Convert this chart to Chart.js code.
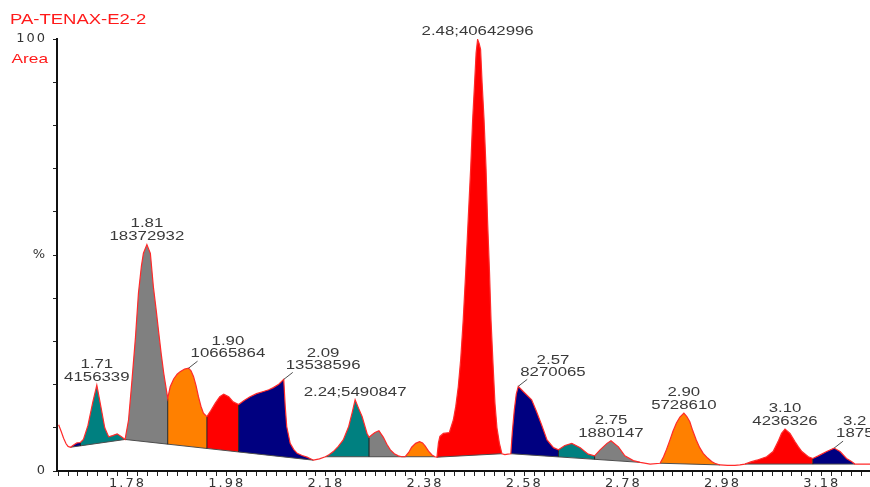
<!DOCTYPE html>
<html>
<head>
<meta charset="utf-8">
<title>PA-TENAX-E2-2</title>
<script src="https://cdn.jsdelivr.net/npm/chart.js@4.4.1/dist/chart.umd.min.js"></script>
<style>
    html, body { margin: 0; padding: 0; background: #fff; }
    #wrap { width: 870px; height: 487px; }
</style>
</head>
<body>
<div id="wrap"><canvas id="cromatograma" width="870" height="487"></canvas></div>
<script>
// --- DATOS ---

const nombreMuestra = "PA-TENAX-E2-2";
const nombreEjeY = "Area";

const etiquetasX = [1.78, 1.98, 2.18, 2.38, 2.58, 2.78, 2.98, 3.18];
const valoresY = [0, 50, 100];
const textosY = ["0", "%", "100"];

// señal (tiempo de retención, % intensidad)
const tiempos = [
    1.641, 1.646, 1.651, 1.656, 1.660, 1.665, 1.672, 1.678, 1.685, 1.691,
    1.700, 1.710, 1.718, 1.726, 1.734, 1.742, 1.750, 1.759, 1.767, 1.775,
    1.782, 1.789, 1.796, 1.802, 1.808, 1.812, 1.819, 1.826, 1.832, 1.838,
    1.843, 1.848, 1.853, 1.861, 1.866, 1.873, 1.880, 1.886, 1.895, 1.903,
    1.908, 1.913, 1.918, 1.923, 1.928, 1.933, 1.940, 1.948, 1.957, 1.966,
    1.974, 1.984, 1.993, 2.004, 2.015, 2.027, 2.040, 2.054, 2.065, 2.074,
    2.085, 2.095, 2.098, 2.101, 2.108, 2.115, 2.122, 2.132, 2.142, 2.155,
    2.167, 2.179, 2.187, 2.195, 2.205, 2.215, 2.226, 2.233, 2.239, 2.246,
    2.253, 2.263, 2.267, 2.273, 2.279, 2.287, 2.296, 2.303, 2.310, 2.318,
    2.326, 2.333, 2.340, 2.347, 2.353, 2.361, 2.369, 2.375, 2.380, 2.387,
    2.394, 2.400, 2.404, 2.407, 2.410, 2.417, 2.429, 2.437, 2.442, 2.447,
    2.452, 2.457, 2.462, 2.467, 2.472, 2.476, 2.480, 2.483, 2.486, 2.489,
    2.492, 2.495, 2.499, 2.503, 2.506, 2.510, 2.513, 2.517, 2.521, 2.525,
    2.530, 2.535, 2.541, 2.547, 2.553, 2.556, 2.560, 2.564, 2.568, 2.578,
    2.595, 2.605, 2.615, 2.626, 2.639, 2.649, 2.662, 2.676, 2.693, 2.709,
    2.722, 2.733, 2.747, 2.755, 2.770, 2.783, 2.800, 2.814, 2.834, 2.854,
    2.861, 2.867, 2.874, 2.880, 2.887, 2.894, 2.902, 2.908, 2.914, 2.920,
    2.927, 2.934, 2.941, 2.950, 2.958, 2.966, 2.975, 2.990, 3.005, 3.015,
    3.025, 3.037, 3.049, 3.059, 3.069, 3.082, 3.092, 3.099, 3.106, 3.116,
    3.126, 3.133, 3.140, 3.153, 3.162, 3.173, 3.190, 3.205, 3.217, 3.230,
    3.240, 3.247, 3.260, 3.278
];
const intensidades = [
    10.7, 9.2, 7.6, 6.3, 5.7, 5.5, 6.1, 6.5, 6.6, 7.3,
    10.5, 16.0, 19.9, 15.0, 10.0, 7.9, 8.2, 8.6, 8.0, 7.3,
    11.8, 21.1, 31.0, 41.2, 47.5, 50.4, 52.4, 50.4, 42.7, 37.0,
    31.9, 27.0, 22.6, 16.8, 19.5, 21.3, 22.4, 23.0, 23.6, 23.8,
    23.2, 21.9, 19.8, 17.2, 15.0, 13.4, 12.6, 14.0, 15.7, 17.2,
    17.8, 17.2, 16.0, 15.4, 16.3, 17.2, 17.9, 18.4, 18.8, 19.3,
    20.1, 21.2, 15.0, 10.3, 6.4, 5.0, 4.1, 3.6, 3.2, 2.5,
    2.8, 3.3, 3.8, 4.5, 5.7, 7.2, 10.3, 13.5, 16.5, 14.5,
    12.6, 8.7, 7.8, 8.4, 8.9, 9.3, 7.8, 6.2, 4.9, 4.0,
    3.5, 3.3, 3.3, 4.3, 5.5, 6.4, 6.8, 6.5, 5.8, 4.6,
    3.7, 3.3, 3.2, 6.5, 8.0, 8.7, 8.9, 11.8, 15.0, 19.5,
    26.0, 35.0, 46.0, 58.2, 70.0, 81.3, 90.0, 96.8, 99.9, 99.0,
    97.6, 90.0, 81.3, 70.0, 58.2, 46.0, 35.0, 25.0, 15.7, 10.0,
    6.4, 4.0, 3.8, 3.9, 4.0, 9.0, 14.1, 17.8, 19.6, 18.4,
    16.5, 13.7, 10.7, 7.2, 5.4, 4.9, 5.9, 6.4, 5.4, 3.9,
    3.5, 4.9, 6.4, 7.0, 5.6, 3.5, 2.4, 2.0, 1.6, 1.8,
    3.3, 5.0, 7.2, 9.2, 11.1, 12.5, 13.4, 12.6, 11.4, 9.3,
    7.2, 5.4, 4.1, 3.0, 2.2, 1.7, 1.4, 1.3, 1.3, 1.4,
    1.6, 2.1, 2.5, 2.9, 3.3, 4.5, 6.8, 8.7, 9.7, 8.7,
    6.8, 5.6, 4.5, 3.3, 2.9, 3.5, 4.5, 5.3, 4.5, 2.9,
    2.2, 1.6, 1.6, 1.6
];

// picos integrados: inicio, fin, color y línea base usada
const picoInicio = [1.665, 1.685, 1.775, 1.861, 1.940, 2.004, 2.179, 2.267, 2.340, 2.404, 2.553, 2.649, 2.722, 2.854, 3.025, 3.162];
const picoFin    = [1.685, 1.775, 1.861, 1.940, 2.004, 2.155, 2.267, 2.333, 2.400, 2.535, 2.649, 2.722, 2.814, 2.975, 3.162, 3.247];
const picoColor  = ['navy', 'teal', 'gray', 'orange', 'red', 'navy', 'teal', 'gray', 'orange', 'red', 'navy', 'teal', 'gray', 'orange', 'red', 'navy'];
const picoBase   = [0, 0, 1, 1, 1, 1, 2, 2, 2, 3, 4, 4, 4, 5, 6, 6];

// líneas base (tramos rectos)
const baseTiempos = [[1.665, 1.775], [1.775, 2.155], [2.179, 2.400], [2.404, 2.535], [2.553, 2.814], [2.854, 2.975], [3.025, 3.247]];
const baseNiveles = [[5.5, 7.3], [7.3, 2.5], [3.3, 3.3], [3.2, 4.0], [4.0, 2.0], [1.8, 1.4], [1.6, 1.6]];

// cortes verticales entre picos vecinos
const corteTiempos = [1.685, 1.861, 1.940, 2.004, 2.267, 2.649, 2.722, 3.162];
const corteBase    = [5.8, 6.2, 5.2, 4.4, 3.3, 3.3, 2.7, 1.6];

// etiquetas de picos
const etiquetaTiempo = [1.718, 1.819, 1.903, 2.095, 2.239, 2.486, 2.568, 2.755, 2.902, 3.106, 3.205];
const etiquetaRT     = ["1.71", "1.81", "1.90", "2.09", "2.24", "2.48", "2.57", "2.75", "2.90", "3.10", "3.2"];
const etiquetaArea   = ["4156339", "18372932", "10665864", "13538596", "5490847", "40642996", "8270065", "1880147", "5728610", "4236326", "1875"];
const etiquetaModo   = ["pila", "pila", "guia", "guia", "linea", "linea", "guia", "pila", "pila", "pila", "guia"];

const COLORES = { teal: '#008080', gray: '#808080', orange: '#ff8000', red: '#ff0000', navy: '#000080' };

// --- UTILIDADES ---

function valorEn(t) {
    return intensidades[tiempos.indexOf(t)];
}

function puntosEntre(t0, t1) {
    const pts = [];
    tiempos.forEach((t, i) => {
        if (t >= t0 && t <= t1) pts.push({ x: t, y: intensidades[i] });
    });
    return pts;
}

function construirDatasets() {
    const ds = [];
    // la señal va primero para que quede encima de todo
    ds.push({ data: tiempos.map((t, i) => ({ x: t, y: intensidades[i] })), borderColor: '#ff2a2a', borderWidth: 1.2, fill: false });

    corteTiempos.forEach((t, i) => {
        ds.push({ data: [{ x: t, y: corteBase[i] }, { x: t, y: valorEn(t) }], borderColor: '#1e1e1e', borderWidth: 1, fill: false });
    });

    const indiceBase = [];
    baseTiempos.forEach((par, i) => {
        indiceBase.push(ds.length);
        ds.push({
            data: [{ x: par[0], y: baseNiveles[i][0] }, { x: par[1], y: baseNiveles[i][1] }],
            borderColor: '#4d4d4d', borderWidth: 1, fill: false
        });
    });

    picoInicio.forEach((t0, i) => {
        ds.push({
            data: puntosEntre(t0, picoFin[i]),
            borderColor: 'transparent', borderWidth: 0,
            backgroundColor: COLORES[picoColor[i]],
            fill: indiceBase[picoBase[i]]
        });
    });
    return ds;
}

// texto ensanchado como en la captura original
function texto(ctx, s, x, y, align, font, color, k) {
    ctx.save();
    ctx.font = font || '12px "Liberation Sans", Arial, sans-serif';
    ctx.fillStyle = color || '#3a3a3a';
    ctx.textBaseline = 'middle';
    ctx.textAlign = align;
    ctx.translate(x, y);
    ctx.scale(k || 1.4, 1);
    ctx.fillText(s, 0, 0);
    ctx.restore();
}

function anchoTexto(ctx, s) {
    ctx.save();
    ctx.font = '12px "Liberation Sans", Arial, sans-serif';
    const w = ctx.measureText(s).width * 1.4;
    ctx.restore();
    return w;
}

const pluginEtiquetas = {
    id: 'etiquetasPicos',
    beforeDraw(chart) {
        chart.ctx.letterSpacing = '2px';
    },
    afterDatasetsDraw(chart) {
        const ctx = chart.ctx;
        const xs = chart.scales.x;
        const ys = chart.scales.y;
        ctx.save();
        ctx.letterSpacing = '0px';

        etiquetaTiempo.forEach((t, i) => {
            const px = xs.getPixelForValue(t);
            const py = ys.getPixelForValue(valorEn(t));
            const modo = etiquetaModo[i];
            if (modo === 'linea') {
                texto(ctx, etiquetaRT[i] + ';' + etiquetaArea[i], px, py - 7.5, 'center');
            } else if (modo === 'pila') {
                texto(ctx, etiquetaRT[i], px, py - 20.5, 'center');
                texto(ctx, etiquetaArea[i], px, py - 7.5, 'center');
            } else {
                ctx.strokeStyle = '#505050';
                ctx.lineWidth = 1;
                ctx.beginPath();
                ctx.moveTo(px, py);
                ctx.lineTo(px + 9, py - 7);
                ctx.stroke();
                const centro = px + 2 + anchoTexto(ctx, etiquetaArea[i]) / 2;
                texto(ctx, etiquetaArea[i], centro, py - 14, 'center');
                texto(ctx, etiquetaRT[i], centro, py - 26, 'center');
            }
        });

        texto(ctx, nombreMuestra, 10, 20, 'left', '14px "Liberation Sans", Arial, sans-serif', '#ff1a1a', 1.32);
        texto(ctx, nombreEjeY, 11.5, 59.5, 'left', '13px "Liberation Sans", Arial, sans-serif', '#ff1a1a', 1.33);
        ctx.restore();
    },
    afterDraw(chart) {
        chart.ctx.letterSpacing = '0px';
    }
};

function etiquetaX(v) {
    const hit = etiquetasX.find(e => Math.abs(e - v) < 1e-6);
    return hit === undefined ? '' : hit.toFixed(2);
}

function etiquetaY(v) {
    const i = valoresY.indexOf(v);
    return i < 0 ? '' : textosY[i];
}

// --- GRAFICA ---

function inicializarGrafica() {
    const ctx = document.getElementById('cromatograma').getContext('2d');
    const fuenteEjes = { family: '"DejaVu Sans", sans-serif', size: 13 };

    new Chart(ctx, {
        type: 'line',
        data: { datasets: construirDatasets() },
        options: {
            responsive: false,
            animation: false,
            devicePixelRatio: 1,
            events: [],
            layout: { padding: { top: 39, left: 0, right: 0, bottom: 0 } },
            elements: { point: { radius: 0, hoverRadius: 0 }, line: { tension: 0 } },
            plugins: { legend: { display: false }, tooltip: { enabled: false } },
            scales: {
                x: {
                    type: 'linear',
                    min: 1.6377,
                    max: 3.2774,
                    afterBuildTicks: s => {
                        const ticks = [];
                        for (let k = 82; k <= 163; k++) ticks.push({ value: k / 50 });
                        s.ticks = ticks;
                    },
                    afterFit: s => { s.height = 16; },
                    grid: { drawOnChartArea: false, tickLength: 5, color: '#222' },
                    border: { display: true, color: '#111', width: 2 },
                    ticks: { autoSkip: false, maxRotation: 0, padding: 0, color: '#333', font: fuenteEjes, callback: v => etiquetaX(v) }
                },
                y: {
                    type: 'linear',
                    min: 0,
                    max: 100,
                    afterBuildTicks: s => {
                        const ticks = [];
                        for (let v = 0; v <= 100; v += 10) ticks.push({ value: v });
                        s.ticks = ticks;
                    },
                    afterFit: s => { s.width = 57; },
                    grid: { drawOnChartArea: false, tickLength: 4, color: '#222' },
                    border: { display: true, color: '#111', width: 2 },
                    ticks: { autoSkip: false, padding: 6, color: '#333', font: fuenteEjes, callback: v => etiquetaY(v) }
                }
            }
        },
        plugins: [pluginEtiquetas]
    });
}

window.onload = inicializarGrafica;
</script>
</body>
</html>
